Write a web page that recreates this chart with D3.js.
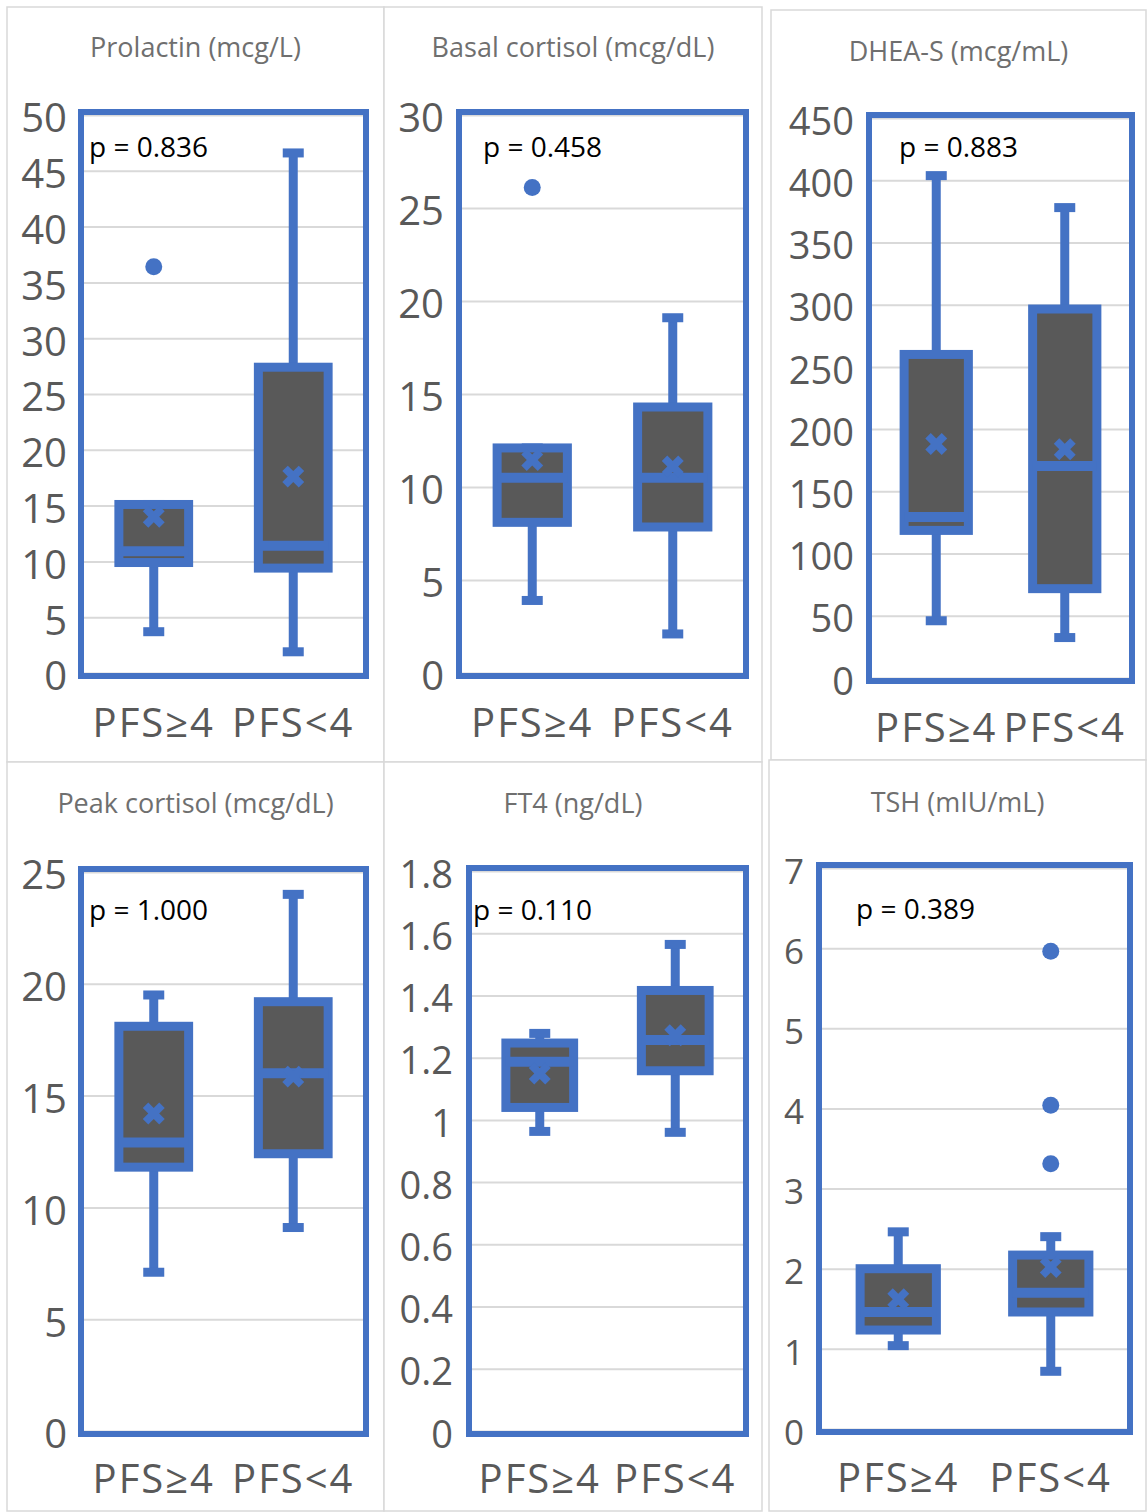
<!DOCTYPE html>
<html>
<head>
<meta charset="utf-8">
<script src="https://cdn.jsdelivr.net/npm/d3@7"></script>
<style>
  body { margin: 0; background: #fff; }
  svg { display: block; font-family: "Open Sans", "Noto Sans", "DejaVu Sans", sans-serif; }
</style>
</head>
<body>
<svg id="chart" width="1147" height="1512"></svg>
<script>
// ---- data ----
const groups = ["PFS≥4", "PFS<4"];
const titles = ["Prolactin (mcg/L)", "Basal cortisol (mcg/dL)", "DHEA-S (mcg/mL)",
  "Peak cortisol (mcg/dL)", "FT4 (ng/dL)", "TSH (mIU/mL)"];
const pValues = ["0.836", "0.458", "0.883", "1.000", "0.110", "0.389"];

// each box: [lower whisker, Q1, median, Q3, upper whisker]
const prolactinBoxes = [[3.7, 9.9, 10.9, 15.1, 15.1], [1.9, 9.4, 11.4, 27.4, 46.6]];
const prolactinMeans = [14.0, 17.6];
const prolactinOutliers = [[36.4], []];
const prolactinTicks = [0, 5, 10, 15, 20, 25, 30, 35, 40, 45, 50];

const basalBoxes = [[3.9, 8.1, 10.5, 12.1, 12.1], [2.1, 7.85, 10.5, 14.3, 19.1]];
const basalMeans = [11.45, 11.1];
const basalOutliers = [[26.1], []];
const basalTicks = [0, 5, 10, 15, 20, 25, 30];

const dheaBoxes = [[46, 118.6, 129.4, 260, 403.7], [32.5, 71.8, 170.4, 296.5, 378]];
const dheaMeans = [188, 183.8];
const dheaOutliers = [[], []];
const dheaTicks = [0, 50, 100, 150, 200, 250, 300, 350, 400, 450];

const peakBoxes = [[7.1, 11.8, 12.9, 18.1, 19.5], [9.1, 12.4, 16.0, 19.2, 24.0]];
const peakMeans = [14.2, 15.85];
const peakOutliers = [[], []];
const peakTicks = [0, 5, 10, 15, 20, 25];

const ft4Boxes = [[0.963, 1.04, 1.187, 1.247, 1.278], [0.96, 1.158, 1.257, 1.416, 1.564]];
const ft4Means = [1.149, 1.272];
const ft4Outliers = [[], []];
const ft4Ticks = [0, 0.2, 0.4, 0.6, 0.8, 1, 1.2, 1.4, 1.6, 1.8];

const tshBoxes = [[1.04, 1.235, 1.46, 2.0, 2.46], [0.72, 1.46, 1.70, 2.17, 2.40]];
const tshMeans = [1.62, 2.02];
const tshOutliers = [[], [5.96, 4.04, 3.31]];
const tshTicks = [0, 1, 2, 3, 4, 5, 6, 7];

// ---- layout ----
const BLUE = "#4472C4";
const DARK = "#595959";
const GRID = "#d9d9d9";
const TEXT = "#595959";

const panels = [
  { border: [7, 7, 384, 762], plot: [84, 363, 115, 673], tickX: 67, tickFont: 40, titleY: 57, pX: 89, pY: 157, catY: 737,
    boxes: prolactinBoxes, means: prolactinMeans, outliers: prolactinOutliers, ticks: prolactinTicks },
  { border: [384, 7, 762, 762], plot: [462, 743, 115, 673], tickX: 444, tickFont: 40, titleY: 57, pX: 483, pY: 157, catY: 737,
    boxes: basalBoxes, means: basalMeans, outliers: basalOutliers, ticks: basalTicks },
  { border: [771, 10, 1146, 760], plot: [872, 1129, 118, 678], tickX: 854, tickFont: 38, titleY: 61, pX: 899, pY: 157, catY: 742,
    boxes: dheaBoxes, means: dheaMeans, outliers: dheaOutliers, ticks: dheaTicks },
  { border: [7, 762, 384, 1511], plot: [84, 363, 872, 1431], tickX: 67, tickFont: 40, titleY: 813, pX: 89, pY: 920, catY: 1493,
    boxes: peakBoxes, means: peakMeans, outliers: peakOutliers, ticks: peakTicks },
  { border: [384, 762, 762, 1511], plot: [472, 743, 871, 1431], tickX: 453, tickFont: 38, titleY: 813, pX: 473, pY: 920, catY: 1493,
    boxes: ft4Boxes, means: ft4Means, outliers: ft4Outliers, ticks: ft4Ticks },
  { border: [769, 760, 1146, 1511], plot: [822, 1127, 868, 1429], tickX: 804, tickFont: 35, titleY: 812, pX: 856, pY: 919, catY: 1492,
    boxes: tshBoxes, means: tshMeans, outliers: tshOutliers, ticks: tshTicks },
];

const svg = d3.select("#chart");

panels.forEach((p, i) => {
  const [bx0, by0, bx1, by1] = p.border;
  const [x0, x1, y0, y1] = p.plot;
  const g = svg.append("g").attr("class", "panel");

  g.append("rect")
    .attr("x", bx0).attr("y", by0)
    .attr("width", bx1 - bx0).attr("height", by1 - by0)
    .attr("fill", "#fff").attr("stroke", GRID).attr("stroke-width", 1.5);

  g.append("text")
    .attr("x", (bx0 + bx1) / 2).attr("y", p.titleY)
    .attr("text-anchor", "middle")
    .attr("font-size", 27).attr("fill", "#6f6f6f")
    .text(titles[i]);

  const y = d3.scaleLinear().domain([0, p.ticks[p.ticks.length - 1]]).range([y1, y0]);
  const x = d3.scaleBand().domain(groups).range([x0, x1]);

  // gridlines
  g.append("g")
    .attr("transform", `translate(${x0},0)`)
    .call(d3.axisLeft(y).tickValues(p.ticks).tickSize(-(x1 - x0)).tickFormat(""))
    .call((a) => a.select(".domain").remove())
    .selectAll("line").attr("stroke", GRID).attr("stroke-width", 2);

  // y tick labels
  g.append("g")
    .attr("transform", `translate(${p.tickX},4)`)
    .call(d3.axisLeft(y).tickValues(p.ticks).tickSize(0).tickPadding(0).tickFormat((d) => String(d)))
    .attr("font-family", null)
    .attr("font-size", p.tickFont)
    .call((a) => a.select(".domain").remove())
    .selectAll("text").attr("fill", TEXT);

  // category labels
  g.append("g")
    .attr("transform", `translate(0,${p.catY})`)
    .call(d3.axisBottom(x).tickSize(0).tickPadding(0))
    .attr("font-family", null)
    .attr("font-size", 40)
    .call((a) => a.select(".domain").remove())
    .selectAll("text")
    .attr("dy", 0).attr("fill", TEXT)
    .attr("letter-spacing", 2);

  // plot frame
  g.append("rect")
    .attr("x", x0 - 3).attr("y", y0 - 3)
    .attr("width", x1 - x0 + 6).attr("height", y1 - y0 + 6)
    .attr("fill", "none").attr("stroke", BLUE).attr("stroke-width", 6);

  g.append("text")
    .attr("x", p.pX).attr("y", p.pY)
    .attr("font-size", 28).attr("fill", "#000")
    .text(`p = ${pValues[i]}`);

  const bw = x.bandwidth() * 0.5;
  const items = groups.map((k, j) => ({
    key: k, cx: x(k) + x.bandwidth() / 2,
    lo: p.boxes[j][0], q1: p.boxes[j][1], med: p.boxes[j][2], q3: p.boxes[j][3], hi: p.boxes[j][4],
    mean: p.means[j], out: p.outliers[j],
  }));

  const bg = g.selectAll("g.box").data(items).join("g").attr("class", "box");

  // whiskers
  bg.append("line")
    .attr("x1", (d) => d.cx).attr("x2", (d) => d.cx)
    .attr("y1", (d) => y(d.lo)).attr("y2", (d) => y(d.hi))
    .attr("stroke", BLUE).attr("stroke-width", 9);
  bg.selectAll("rect.cap")
    .data((d) => [d.lo, d.hi].map((v) => ({ cx: d.cx, v })))
    .join("rect").attr("class", "cap")
    .attr("x", (d) => d.cx - 10.5).attr("y", (d) => y(d.v) - 4.5)
    .attr("width", 21).attr("height", 9)
    .attr("fill", BLUE);

  // box
  bg.append("rect")
    .attr("x", (d) => d.cx - bw / 2).attr("y", (d) => y(d.q3))
    .attr("width", bw).attr("height", (d) => y(d.q1) - y(d.q3))
    .attr("fill", DARK).attr("stroke", BLUE).attr("stroke-width", 9);

  // median
  bg.append("line")
    .attr("x1", (d) => d.cx - bw / 2).attr("x2", (d) => d.cx + bw / 2)
    .attr("y1", (d) => y(d.med)).attr("y2", (d) => y(d.med))
    .attr("stroke", BLUE).attr("stroke-width", 10);

  // mean marker
  bg.append("path")
    .attr("d", d3.symbol(d3.symbolCross, 300))
    .attr("transform", (d) => `translate(${d.cx},${y(d.mean)}) rotate(45)`)
    .attr("fill", BLUE);

  // outliers
  bg.selectAll("circle")
    .data((d) => d.out.map((v) => ({ cx: d.cx, v })))
    .join("circle")
    .attr("cx", (d) => d.cx).attr("cy", (d) => y(d.v))
    .attr("r", 8.5).attr("fill", BLUE);
});
</script>
</body>
</html>
